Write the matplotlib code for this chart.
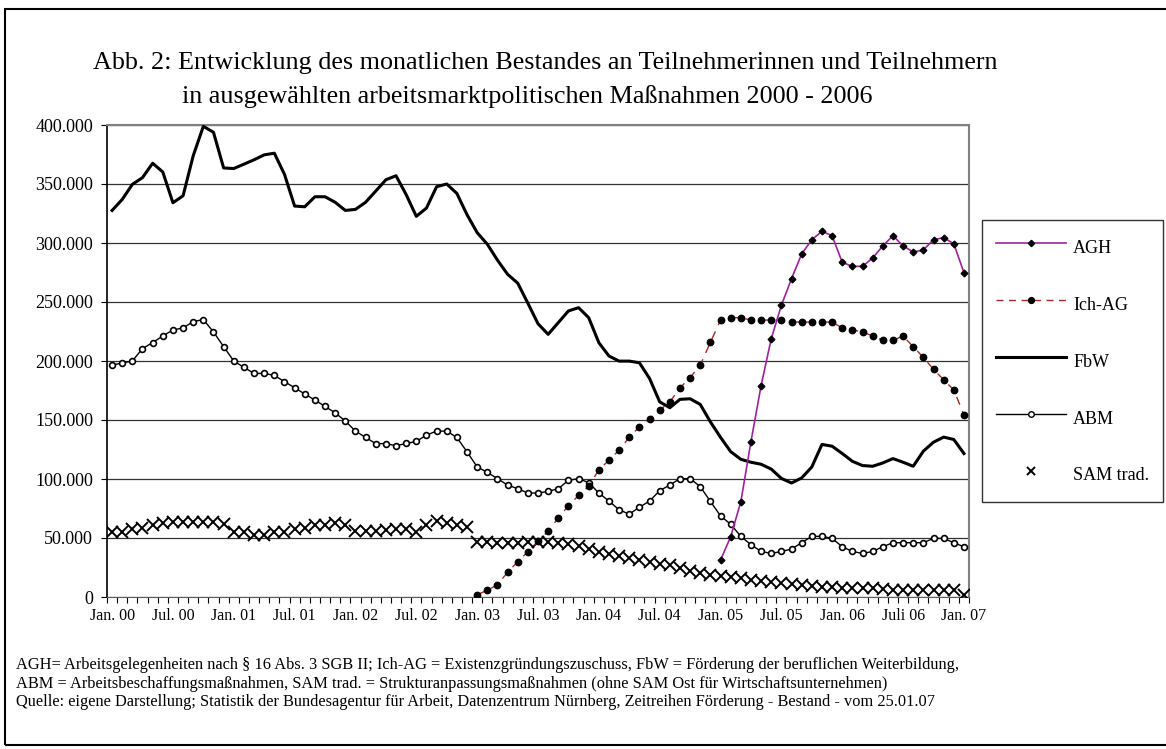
import matplotlib.pyplot as plt
import numpy as np
from matplotlib.ticker import FuncFormatter
from matplotlib.lines import Line2D
from matplotlib.patches import Rectangle

plt.rcParams['font.family'] = ['Liberation Serif', 'DejaVu Serif']

# Monatswerte Jan. 2000 - Jan. 2007 (in Tsd.)
n_months = 85

fbw = [327.6, 336.9, 349.7, 355.4, 367.6, 360.2, 334.1, 340.0, 373.9, 398.9,
       393.8, 363.6, 363.1, 366.8, 370.5, 374.7, 376.1, 358.2, 331.3, 330.7,
       339.2, 339.2, 334.5, 327.6, 328.5, 334.5, 344.0, 353.6, 357.0, 341.0,
       322.6, 329.6, 347.7, 350.0, 342.0, 324.0, 308.8, 299.0, 285.5, 273.5,
       266.0, 249.0, 231.6, 222.6, 232.5, 242.4, 245.2, 236.7, 215.5, 204.2,
       199.9, 199.9, 198.5, 185.2, 165.4, 160.4, 167.5, 168.0, 163.2, 148.4,
       135.3, 123.2, 116.7, 114.2, 112.5, 108.4, 100.5, 96.6, 100.9, 110.2,
       129.3, 127.8, 121.6, 115.0, 111.4, 110.8, 113.6, 117.3, 114.2, 110.8,
       123.6, 131.2, 135.5, 133.5, 121.6]

abm = [196.6, 198.3, 200.0, 210.5, 215.6, 221.2, 226.3, 228.0, 233.4, 235.1,
       224.6, 212.2, 200.0, 194.6, 189.5, 189.5, 187.8, 182.5, 177.4, 172.0,
       166.9, 161.5, 156.1, 149.1, 140.6, 135.2, 130.0, 130.0, 128.2, 130.1,
       131.8, 137.2, 140.6, 140.6, 135.2, 123.0, 110.3, 105.6, 100.3, 94.9,
       91.8, 88.1, 88.1, 89.5, 91.8, 98.9, 100.3, 96.9, 88.1, 81.3,
       73.9, 70.2, 76.1, 81.3, 90.1, 94.9, 100.3, 100.3, 93.5, 81.0,
       68.8, 61.6, 51.4, 44.3, 38.6, 36.9, 38.6, 40.6, 46.0, 51.4,
       51.4, 49.7, 42.6, 38.6, 36.9, 38.6, 42.6, 46.0, 46.0, 46.0,
       46.0, 49.7, 49.7, 46.0, 42.6]

sam = [54.9, 54.9, 57.3, 58.7, 60.8, 62.5, 63.9, 63.9, 63.9, 63.9,
       63.9, 61.6, 54.9, 54.9, 52.9, 52.9, 54.9, 54.9, 57.3, 58.7,
       60.8, 60.8, 62.4, 61.2, 55.6, 55.6, 55.6, 56.5, 57.5, 57.6,
       55.2, 61.0, 64.3, 63.0, 61.3, 59.0, 46.9, 46.9, 45.5, 45.5,
       45.5, 46.5, 46.4, 46.4, 45.6, 44.7, 43.6, 40.3, 38.1, 36.7,
       35.0, 33.3, 31.7, 30.0, 28.3, 26.7, 24.7, 22.2, 20.0, 18.3,
       17.8, 17.2, 15.8, 14.4, 13.9, 13.1, 12.2, 11.1, 10.3, 9.4,
       8.6, 8.1, 7.5, 7.5, 7.5, 7.5, 6.7, 6.1, 6.1, 6.1,
       6.1, 6.1, 6.1, 6.1, 1.9]

# Ich-AG ab Jan. 03, AGH ab Jan. 05
ich_ag_start = 36
ich_ag = [2.0, 5.6, 10.4, 21.0, 29.9, 38.5, 47.2, 55.8, 67.0, 77.3,
          86.1, 93.8, 107.8, 116.0, 124.5, 135.4, 144.2, 151.1, 158.4, 165.3,
          177.2, 185.9, 196.6, 215.8, 234.7, 236.7, 236.7, 234.7, 234.7, 234.7,
          234.7, 233.0, 233.0, 233.0, 233.0, 233.0, 228.0, 226.3, 224.6, 221.2,
          217.5, 217.5, 221.2, 212.1, 203.1, 192.9, 184.2, 175.4, 154.5]

agh_start = 60
agh = [31.3, 51.1, 80.7, 131.7, 179.2, 218.9, 247.2, 269.8, 290.7, 302.8,
       309.9, 306.2, 283.6, 280.2, 280.2, 287.3, 297.5, 306.2, 297.5, 292.4,
       294.1, 302.8, 304.5, 299.4, 274.9]

tick_labels = ["Jan. 00", "Jul. 00", "Jan. 01", "Jul. 01", "Jan. 02", "Jul. 02",
               "Jan. 03", "Jul. 03", "Jan. 04", "Jul. 04", "Jan. 05", "Jul. 05",
               "Jan. 06", "Juli 06", "Jan. 07"]

W, H = 1166, 749
fig = plt.figure(figsize=(W / 100, H / 100), dpi=100)

# Rahmen um die gesamte Abbildung
fig.patches.append(Rectangle((5 / W, 4 / H), 1.2, 1 - 13 / H, transform=fig.transFigure,
                             fill=False, edgecolor='black', linewidth=1.5))

ax = fig.add_axes([107 / W, 1 - 597 / H, (969 - 107) / W, (597 - 125) / H])

x = np.arange(n_months)
x_ich = np.arange(ich_ag_start, ich_ag_start + len(ich_ag))
x_agh = np.arange(agh_start, agh_start + len(agh))

ax.plot(x, np.array(abm) * 1000, color='black', lw=1.0, marker='o', ms=4.2,
        mfc='white', mec='black', mew=1.2, zorder=3)
ax.plot(x, np.array(fbw) * 1000, color='black', lw=2.2, zorder=4)
ax.plot(x, np.array(sam) * 1000, ls='none', marker='x', ms=8, mew=1.4,
        color='black', zorder=3)
ax.plot(x_ich, np.array(ich_ag) * 1000, color='#A52A2A', lw=1.0, ls=(0, (6, 5)),
        marker='o', ms=4.6, mfc='black', mec='black', zorder=5)
ax.plot(x_agh, np.array(agh) * 1000, color='#A020A0', lw=1.2,
        marker='D', ms=3.4, mfc='black', mec='black', zorder=6)

ax.set_xlim(-0.5, n_months - 0.5)
ax.set_ylim(0, 400000)
ax.set_yticks(np.arange(0, 400001, 50000))
ax.yaxis.set_major_formatter(FuncFormatter(
    lambda v, p: '0' if v == 0 else f"{int(v):,}".replace(',', '.')))
ax.set_xticks(np.arange(0, n_months, 6))
ax.set_xticklabels(tick_labels)
ax.set_xticks(np.arange(-0.5, n_months, 1), minor=True)
ax.tick_params(axis='x', which='major', length=0, pad=8, labelsize=11.5)
ax.tick_params(axis='x', which='minor', length=4, width=0.8, direction='out')
ax.tick_params(axis='y', length=4, width=0.8, direction='out', labelsize=13, pad=6)

ax.yaxis.grid(True, color='#333333', lw=0.9)
ax.set_axisbelow(True)
for s in ['top', 'right']:
    ax.spines[s].set_color('#808080')
    ax.spines[s].set_linewidth(1.5)
ax.spines['left'].set_linewidth(1.2)
ax.spines['bottom'].set_color('#606060')

# Titel
fig.text(93 / W, 1 - 63 / H,
         "Abb. 2: Entwicklung des monatlichen Bestandes an Teilnehmerinnen und Teilnehmern",
         fontsize=18.8, va='center', ha='left')
fig.text(182 / W, 1 - 97 / H,
         "in ausgewählten arbeitsmarktpolitischen Maßnahmen 2000 - 2006",
         fontsize=18.8, va='center', ha='left')

# Legende
handles = [
    Line2D([], [], color='#A020A0', lw=1.2, marker='D', ms=3.2, mfc='black', mec='black'),
    Line2D([], [], color='#A52A2A', lw=1.0, ls=(0, (5, 4)), marker='o', ms=4.2,
           mfc='black', mec='black'),
    Line2D([], [], color='black', lw=2.2),
    Line2D([], [], color='black', lw=1.0, marker='o', ms=4, mfc='white', mec='black'),
    Line2D([], [], ls='none', marker='x', ms=6, mew=1.4, color='black'),
]
labels = ["AGH", "Ich-AG", "FbW", "ABM", "SAM trad."]
leg = fig.legend(handles, labels, loc='upper left', bbox_to_anchor=(982 / W, 1 - 220 / H),
                 frameon=True, fancybox=False, edgecolor='black', fontsize=13,
                 handlelength=3.9, handleheight=2.0, labelspacing=1.6, borderpad=0.75,
                 handletextpad=0.4, borderaxespad=0)
leg.get_frame().set_linewidth(1.0)

# Fußnoten
notes = [
    "AGH= Arbeitsgelegenheiten nach § 16 Abs. 3 SGB II; Ich-AG = Existenzgründungszuschuss, FbW = Förderung der beruflichen Weiterbildung,",
    "ABM = Arbeitsbeschaffungsmaßnahmen, SAM trad. = Strukturanpassungsmaßnahmen (ohne SAM Ost für Wirtschaftsunternehmen)",
    "Quelle: eigene Darstellung; Statistik der Bundesagentur für Arbeit, Datenzentrum Nürnberg, Zeitreihen Förderung - Bestand - vom 25.01.07",
]
for k, t in enumerate(notes):
    fig.text(16 / W, 1 - (665 + 18.5 * k) / H, t, fontsize=11.8, va='center', ha='left')

fig.savefig('out.png', dpi=100)
